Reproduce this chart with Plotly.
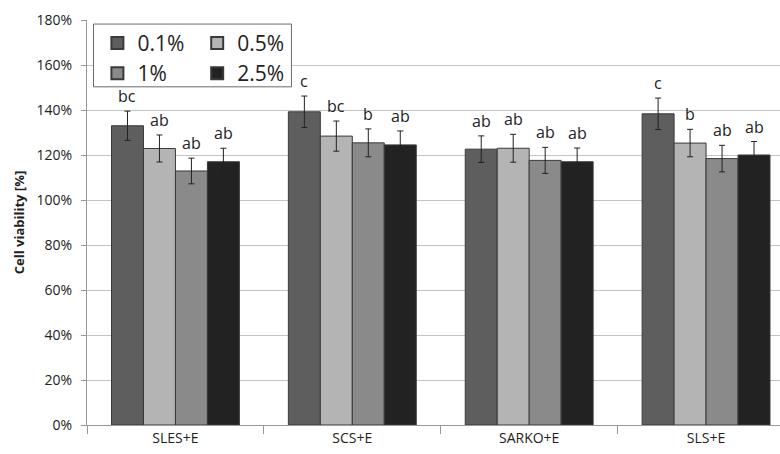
import plotly.graph_objects as go

categories = ["SLES+E", "SCS+E", "SARKO+E", "SLS+E"]
series_names = ["0.1%", "0.5%", "1%", "2.5%"]
values = {
    "0.1%": [133.0, 139.2, 122.6, 138.3],
    "0.5%": [122.9, 128.4, 123.0, 125.3],
    "1%":   [112.9, 125.4, 117.6, 118.4],
    "2.5%": [117.0, 124.5, 117.0, 120.0],
}
errors = {
    "0.1%": [6.5, 7.0, 5.9, 7.0],
    "0.5%": [6.0, 6.7, 6.2, 6.1],
    "1%":   [5.7, 6.2, 5.8, 5.9],
    "2.5%": [6.0, 6.2, 6.1, 6.0],
}
letters = {
    "0.1%": ["bc", "c", "ab", "c"],
    "0.5%": ["ab", "bc", "ab", "b"],
    "1%":   ["ab", "b", "ab", "ab"],
    "2.5%": ["ab", "ab", "ab", "ab"],
}
colors = {"0.1%": "#5e5e5e", "0.5%": "#b4b4b4", "1%": "#8a8a8a", "2.5%": "#222222"}
legend_of = {"0.1%": "legend", "0.5%": "legend2", "1%": "legend", "2.5%": "legend2"}

fig = go.Figure()
for name in series_names:
    fig.add_trace(go.Bar(
        x=categories, y=values[name], name=name,
        marker=dict(color=colors[name], line=dict(color="#3a3a3a", width=1)),
        error_y=dict(type="data", array=errors[name], color="#222222", thickness=1, width=3),
        legend=legend_of[name],
    ))

# significance letters above error bars
n = len(series_names)
bar_w = (1 - 0.277) / n
for i, name in enumerate(series_names):
    for j, cat in enumerate(categories):
        xpos = j - (1 - 0.277) / 2 + bar_w * (i + 0.5)
        fig.add_annotation(
            x=xpos, y=values[name][j] + errors[name][j], xref="x", yref="y",
            text=letters[name][j], showarrow=False, yanchor="bottom", yshift=2,
            font=dict(family="Open Sans", size=16, color="#222222"),
        )

font_main = "Open Sans"
fig.update_layout(
    width=780, height=454,
    margin=dict(l=86.5, r=0, t=20, b=29),
    plot_bgcolor="white", paper_bgcolor="white",
    barmode="group", bargap=0.277, bargroupgap=0,
    font=dict(family=font_main, color="#222222"),
    showlegend=True,
    legend=dict(x=0.015, y=0.993, xanchor="left", yanchor="top", bgcolor="rgba(0,0,0,0)",
                font=dict(size=21, color="#222222"), tracegroupgap=0, itemsizing="constant"),
    legend2=dict(x=0.159, y=0.993, xanchor="left", yanchor="top", bgcolor="rgba(0,0,0,0)",
                 font=dict(size=21, color="#222222"), tracegroupgap=0, itemsizing="constant"),
    xaxis=dict(
        range=[-0.5, 3.418], showgrid=False, showline=True, linecolor="#999999", linewidth=1,
        ticks="outside", tickson="boundaries", ticklen=8, tickcolor="#999999",
        tickfont=dict(size=14, color="#222222"),
    ),
    yaxis=dict(
        range=[0, 180], dtick=20, ticksuffix="%", showgrid=True, gridcolor="#c4c4c4", gridwidth=1,
        showline=True, linecolor="#999999", linewidth=1, ticks="outside", ticklen=5, tickcolor="#999999",
        tickfont=dict(size=14, color="#222222"), zeroline=False, ticklabelstandoff=6,
        title=dict(text="<b>Cell viability [%]</b>", font=dict(size=13, color="#222222"), standoff=9),
    ),
    shapes=[dict(type="rect", xref="paper", yref="paper", x0=0.0094, x1=0.295, y0=0.835, y1=0.99,
                 line=dict(color="#6a6a6a", width=1), fillcolor="white", layer="above")],
)

fig.write_html("out.html", config={"displayModeBar": False},
               post_script="document.body.style.margin='0';")
